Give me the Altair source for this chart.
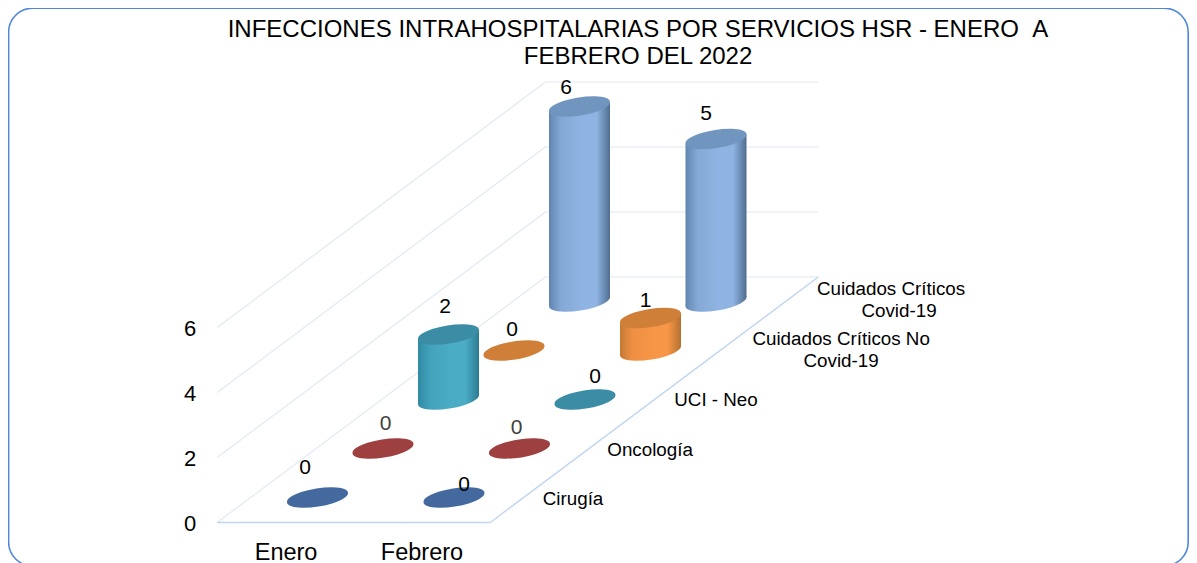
import altair as alt
import pandas as pd

W, H = 1181, 555
FONT = "Liberation Sans"

months = ["Enero", "Febrero"]
series = ["Cirugía", "Oncología", "UCI - Neo", "Cuidados Críticos No Covid-19", "Cuidados Críticos Covid-19"]
values = {
    "Cirugía": [0, 0],
    "Oncología": [0, 0],
    "UCI - Neo": [2, 0],
    "Cuidados Críticos No Covid-19": [0, 1],
    "Cuidados Críticos Covid-19": [6, 5],
}
top_colors = ["#43699f", "#9e4040", "#3b8ca5", "#cf7f38", "#7096bf"]
body_stops = [
    ["#3a5f92", "#4f81bd", "#4f81bd", "#3a5f92"],
    ["#8c3836", "#c0504d", "#c0504d", "#8c3836"],
    ["#2f8aa2", "#43a3bc", "#4bacc6", "#2b7b91"],
    ["#c47a36", "#ee8f42", "#f79646", "#b5712f"],
    ["#5f86b0", "#85a9d6", "#8fb4e3", "#4f6d8f"],
]
y_ticks = [0, 2, 4, 6]
title_lines = ["INFECCIONES INTRAHOSPITALARIAS POR SERVICIOS HSR - ENERO \u00a0A", "FEBRERO DEL 2022"]
# label nudges (dx, dy from the top of each cylinder)
label_nudge = {
    (0, 0): (-12.5, -30), (1, 0): (10, -13), 
    (0, 1): (2.5, -25), (1, 1): (-3, -21),
    (0, 2): (-3.5, -28), (1, 2): (10, -23),
    (0, 3): (-2, -21), (1, 3): (-5, -17),
    (0, 4): (-13.5, -18.5), (1, 4): (-10, -25),
}
series_label_rows = [
    ("Cirugía", 0, 49.4, 1.5),
    ("Oncología", 1, 61, 1.5),
    ("UCI - Neo", 2, 61.4, 0.5),
    ("Cuidados Críticos No", 3, 121, -11.5),
    ("Covid-19", 3, 121, 10.5),
    ("Cuidados Críticos", 4, 105.4, -12.5),
    ("Covid-19", 4, 113.4, 9.5),
]
month_label_dx = [2, 1.4]

PX0, PY0 = 317.5, 497.5
MDX, SDX, SDY, VDY = 136.5, 65.5, 49.0, 32.5
M0, M1, S0, S1 = -0.49, 1.51, -0.51, 4.5


def px(m, s):
    return PX0 - 8 + MDX * m + SDX * s


def py(s, v=0):
    return PY0 - 8 - SDY * s - VDY * v


X = alt.X("x:Q", scale=alt.Scale(domain=[0, W], nice=False, zero=False), axis=None)
Y = alt.Y("y:Q", scale=alt.Scale(domain=[H, 0], nice=False, zero=False), axis=None)
ELLIPSE = "M-1,0.147A1.012,0.289,-9.1,1,1,1,-0.147A1.012,0.289,-9.1,1,1,-1,0.147Z"
HALF_W, TILT = 30.5, 4.5

layers = []

border = alt.Chart(pd.DataFrame({"a": [0]})).mark_rect(
    fill="transparent", stroke="#4f88d8", strokeWidth=1.6, cornerRadius=24
).encode(x=alt.value(0.6), x2=alt.value(1180.2), y=alt.value(0.2), y2=alt.value(558))
layers.append(border)


def seg(rows, color, width=1.0):
    df = pd.DataFrame(rows, columns=["x", "y", "k"])
    return alt.Chart(df).mark_line(color=color, strokeWidth=width).encode(
        x=X, y=Y, detail="k:N", order=alt.Order("o:Q")
    ).transform_calculate(o="datum.x")


wall = []
for v in y_ticks[1:]:
    wall += [(px(M0, S0), py(S0, v), f"l{v}"), (px(M0, S1), py(S1, v), f"l{v}")]
    wall += [(px(M0, S1), py(S1, v), f"b{v}"), (px(M1, S1), py(S1, v), f"b{v}")]
wall += [(px(M0, S0), py(S0), "lf"), (px(M0, S1), py(S1), "lf")]
wall += [(px(M0, S1), py(S1), "bf"), (px(M1, S1), py(S1), "bf")]
layers.append(seg(wall, "#e1e9f5", 1.2))
floor = [(px(M0, S0), py(S0), "ff"), (px(M1, S0), py(S0), "ff"),
         (px(M1, S0), py(S0), "rf"), (px(M1, S1), py(S1), "rf")]
layers.append(seg(floor, "#c0d4ef", 1.4))

for si in range(len(series) - 1, -1, -1):
    name = series[si]
    stops = body_stops[si]
    grad = alt.LinearGradient(
        gradient="linear", x1=0, x2=1, y1=0, y2=0,
        stops=[alt.GradientStop(color=stops[0], offset=0),
               alt.GradientStop(color=stops[1], offset=0.2),
               alt.GradientStop(color=stops[2], offset=0.55),
               alt.GradientStop(color=stops[2], offset=0.78),
               alt.GradientStop(color=stops[3], offset=1)],
    )
    area_rows, bottoms, tops = [], [], []
    for mi, v in enumerate(values[name]):
        cx = px(mi, si)
        tops.append({"x": cx, "y": py(si, v)})
        if v > 0:
            bottoms.append({"x": cx, "y": py(si)})
            for side in (-1, 1):
                area_rows.append({
                    "x": cx + HALF_W * side,
                    "y": py(si, v) - TILT * side,
                    "y2": py(si) - TILT * side,
                    "k": mi,
                })
    if area_rows:
        layers.append(alt.Chart(pd.DataFrame(bottoms)).mark_point(
            shape=ELLIPSE, filled=True, fill=grad, size=(2 * HALF_W) ** 2, opacity=1, strokeWidth=0
        ).encode(x=X, y=Y))
        layers.append(alt.Chart(pd.DataFrame(area_rows)).mark_area(color=grad, opacity=1).encode(
            x=X, y=Y, y2="y2:Q", detail="k:N"))
    layers.append(alt.Chart(pd.DataFrame(tops)).mark_point(
        shape=ELLIPSE, filled=True, fill=top_colors[si], size=(2 * HALF_W) ** 2, opacity=1, strokeWidth=0
    ).encode(x=X, y=Y))


def text_layer(rows, size, color="#000000", align="center"):
    df = pd.DataFrame(rows, columns=["x", "y", "t"])
    return alt.Chart(df).mark_text(
        font=FONT, fontSize=size, color=color, align=align, baseline="middle"
    ).encode(x=X, y=Y, text="t:N")


dark, grey = [], []
for si, name in enumerate(series):
    for mi, v in enumerate(values[name]):
        dx, dy = label_nudge[(mi, si)]
        row = (px(mi, si) + dx, py(si, v) + dy, str(v))
        (grey if (si == 1) else dark).append(row)
layers.append(text_layer(dark, 21))
layers.append(text_layer(grey, 21, "#404040"))

layers.append(text_layer([(182, py(S0, t) + 2, str(t)) for t in y_ticks], 22))
layers.append(text_layer([(px(i, S0) + month_label_dx[i], 544.5, m) for i, m in enumerate(months)], 23.5))
layers.append(text_layer([(px(M1, s) + dx, py(s) + dy, t) for t, s, dx, dy in series_label_rows], 18.8))
layers.append(text_layer([(630, 22, title_lines[0]), (630, 49, title_lines[1])], 24))

chart = alt.layer(*layers).properties(width=W, height=H, padding=0, autosize=alt.AutoSizeParams(type="none")).configure_view(stroke=None)
chart.save("out.html", embed_options={"renderer": "svg", "actions": False})
